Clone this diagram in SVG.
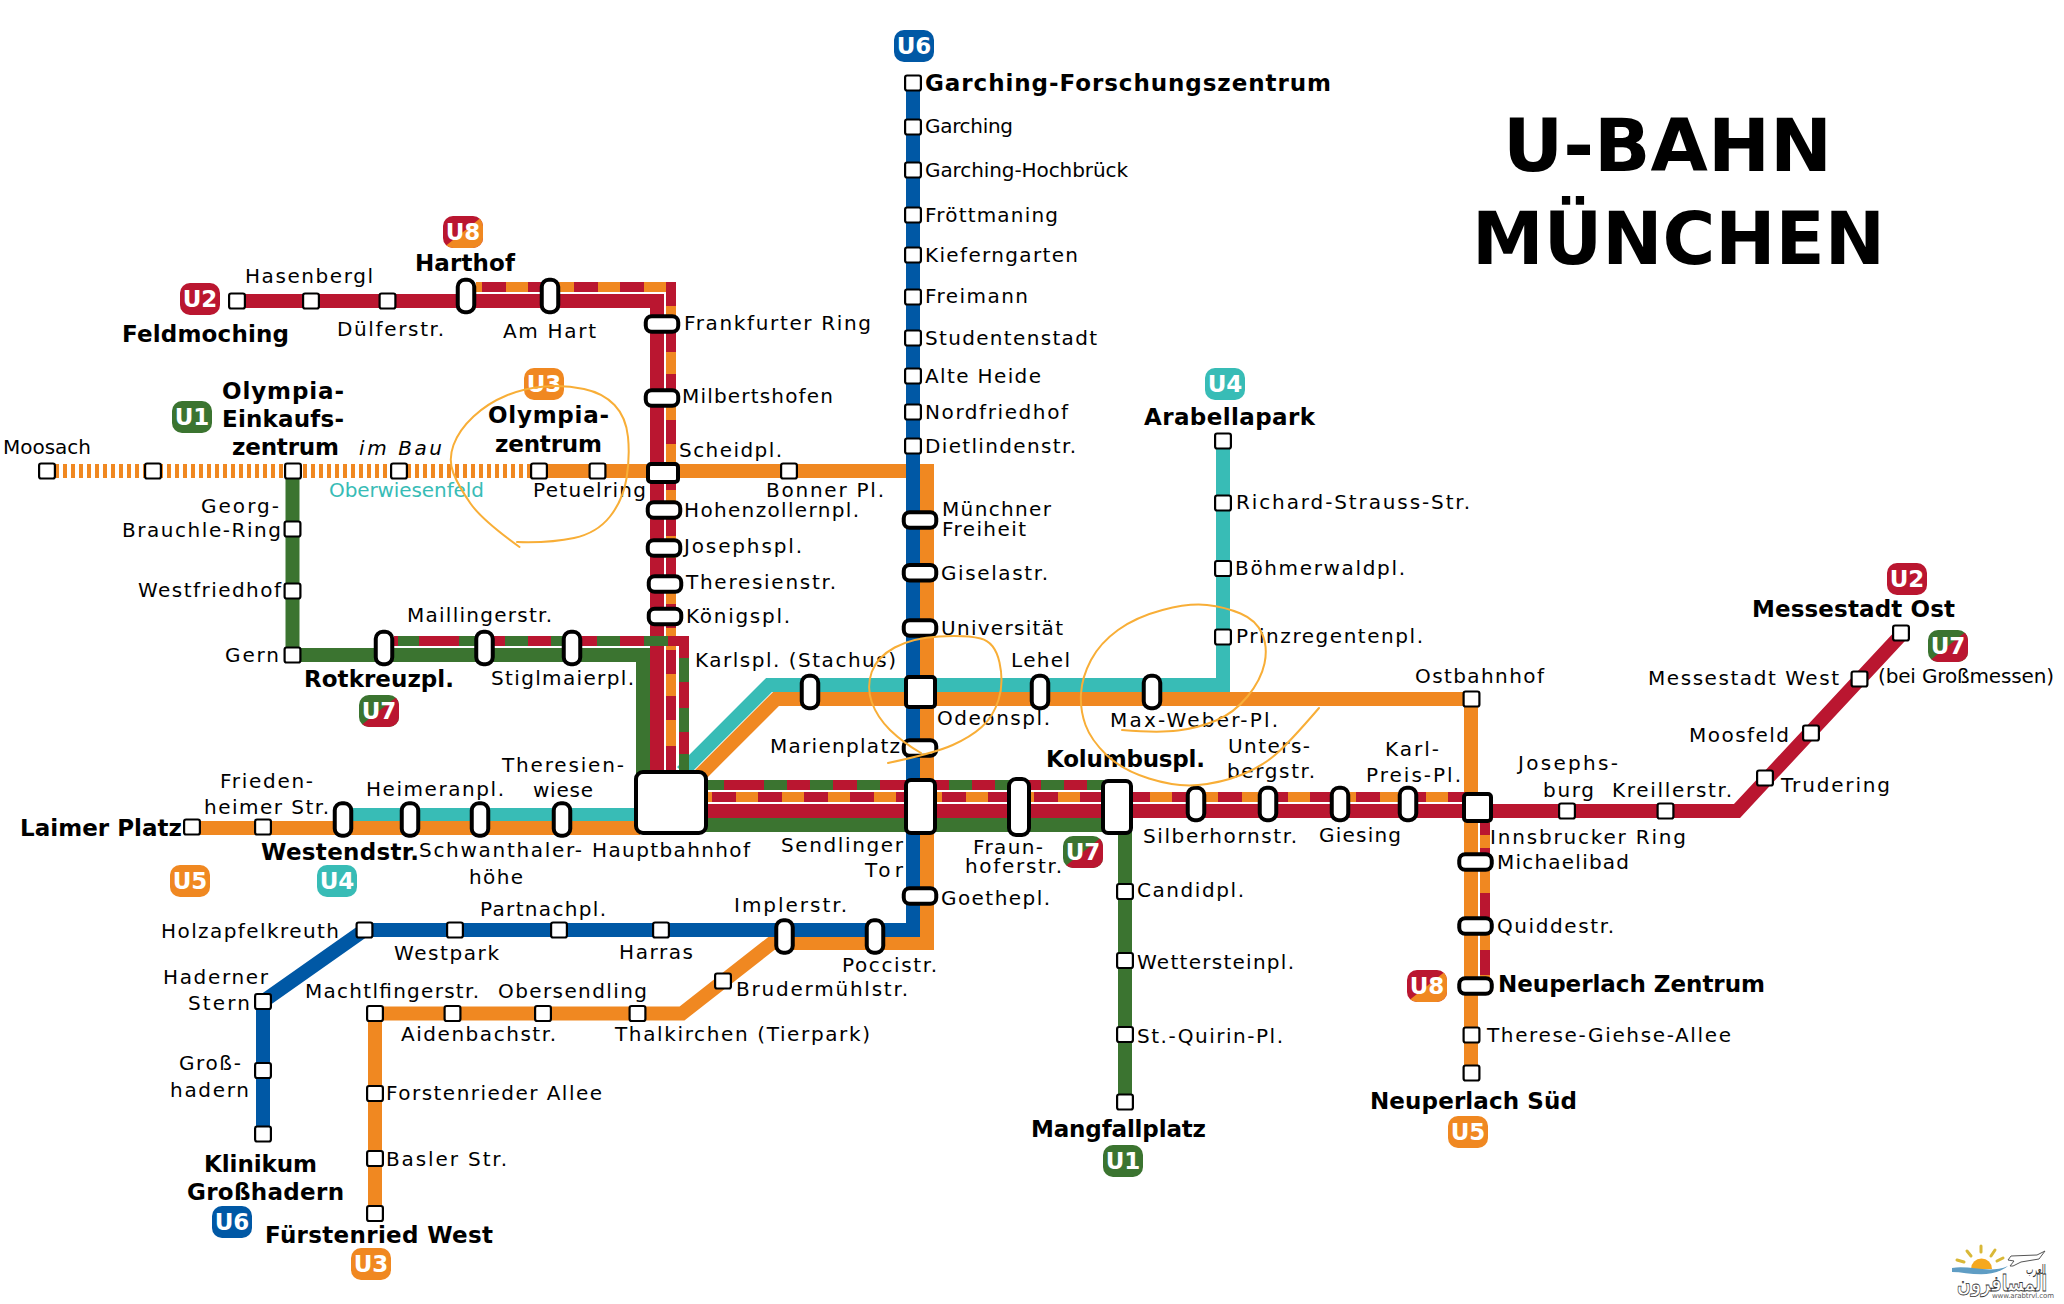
<svg xmlns="http://www.w3.org/2000/svg" width="2064" height="1304" viewBox="0 0 2064 1304">
<style>
.t{font:20px "DejaVu Sans",sans-serif;fill:#000}
.b{font:bold 23px "DejaVu Sans",sans-serif;fill:#000}
.c{font:bold 23px "DejaVu Sans",sans-serif;fill:#fff;text-anchor:middle}
.title{font:bold 73px "DejaVu Sans",sans-serif;fill:#000}
.l{fill:none;stroke-width:14;stroke-linejoin:miter}
.d{fill:none;stroke-width:10}
.s{fill:#fff;stroke:#000;stroke-width:2.2}
.p{fill:#fff;stroke:#000;stroke-width:4}
.red{stroke:#ba1630}.org{stroke:#f08821}.grn{stroke:#3b7430}.blu{stroke:#0058a5}.tea{stroke:#38bcb6}
.ink{fill:none;stroke:#f8ae37;stroke-width:2;stroke-linecap:round}
</style>
<defs>
<clipPath id="bc"><rect x="-20" y="-16" width="40" height="32" rx="10"/></clipPath>
<g id="split-u7" clip-path="url(#bc)"><rect x="-20" y="-16" width="40" height="32" fill="#3b7430"/><polygon points="-20,16 20,-16 20,16" fill="#ba1630"/></g>
<g id="split-u8" clip-path="url(#bc)"><rect x="-20" y="-16" width="40" height="32" fill="#ba1630"/><polygon points="-20,16 20,-16 20,16" fill="#f08821"/></g>
<rect id="b" x="-20" y="-16" width="40" height="32" rx="10"/>
</defs>
<rect width="2064" height="1304" fill="#fff"/>
<g id="title"><text class="title" x="1503" y="171" textLength="329" lengthAdjust="spacingAndGlyphs">U-BAHN</text><text class="title" x="1472" y="264" textLength="413" lengthAdjust="spacingAndGlyphs">MÜNCHEN</text></g>
<g id="connectors">
<path class="l tea" d="M1223 442V685H769L682 772"/>
<path class="l org" d="M1471 1073V699H776L697 778"/>
<path class="l red" d="M237 301H657V775"/>
<path class="d red" d="M476 287H671V775"/>
<path class="d org" d="M476 287H482M506 287H528M552 287H574M598 287H620M644 287H666M671 306V329M671 352V374M671 398V420M671 444V466M671 490V512M671 536V558M671 582V604M671 628V650M671 674V696M671 720V746"/>
<path class="l grn" d="M292.500 471V655H643V775"/>
<path class="d red" d="M394 641H684V775"/>
<path class="d grn" d="M398 641H419M459 641H481M505 641H528M551 641H574M597 641H620M644 641H668M684 658V682M684 708V732M684 754V772"/>
<path class="l org" stroke-dasharray="4 4" d="M47 471H539"/>
<path class="l org" d="M539 471H927V943H772L682 1013.500H375V1213.500"/>
<path class="l blu" d="M913 83V930H364.500L263 1001.500V1134"/>
<path class="l tea" d="M343 815H640"/>
<path class="l org" d="M192 828H640"/>
<path class="l red" d="M660 811H1737L1901 635"/>
<path class="l grn" d="M660 825H1125V1102"/>
<path class="d red" d="M640 785H1104"/>
<path class="d grn" d="M700 785H724M764 785H787M810 785H833M857 785H880M949 785H972M995 785H1010M1041 785H1064M1087 785H1104"/>
<path class="d red" d="M644 797H1466"/>
<path class="d org" stroke-dasharray="22 24" d="M644 797H1466"/>
<path class="d org" d="M1485 815V985"/>
<path class="d red" d="M1485 823V835M1485 848V855M1485 893V917M1485 950V975"/>
</g>
<g id="n-feldmoching"><rect class="s" x="229.100" y="293.500" width="15.800" height="15" rx="2"/><text class="b" x="122" y="342" textLength="167">Feldmoching</text></g>
<g id="n-hasenbergl"><rect class="s" x="303.100" y="293.500" width="15.800" height="15" rx="2"/><text class="t" x="245" y="283" textLength="128">Hasenbergl</text></g>
<g id="n-duelfer"><rect class="s" x="379.600" y="293.500" width="15.800" height="15" rx="2"/><text class="t" x="337" y="336" textLength="107">Dülferstr.</text></g>
<g id="n-harthof"><rect class="p" x="457.750" y="279.750" width="16.500" height="32.500" rx="7"/><text class="b" x="415" y="271" textLength="100">Harthof</text></g>
<g id="n-amhart"><rect class="p" x="541.750" y="279.750" width="16.500" height="32.500" rx="7"/><text class="t" x="503" y="338" textLength="93">Am Hart</text></g>
<g id="n-frankfurter"><rect class="p" x="645.750" y="316.250" width="32.500" height="15.500" rx="6"/><text class="t" x="684" y="330" textLength="187">Frankfurter Ring</text></g>
<g id="n-milbert"><rect class="p" x="645.750" y="390.250" width="32.500" height="15.500" rx="6"/><text class="t" x="682" y="403" textLength="151">Milbertshofen</text></g>
<g id="n-scheid"><rect class="p" x="648" y="464" width="30" height="18" rx="3"/><text class="t" x="679" y="457" textLength="103">Scheidpl.</text></g>
<g id="n-hohenz"><rect class="p" x="647.750" y="502.250" width="32.500" height="15.500" rx="6"/><text class="t" x="684" y="517" textLength="175">Hohenzollernpl.</text></g>
<g id="n-joseph"><rect class="p" x="647.750" y="540.250" width="32.500" height="15.500" rx="6"/><text class="t" x="684" y="553" textLength="118">Josephspl.</text></g>
<g id="n-theresien"><rect class="p" x="648.750" y="576.250" width="32.500" height="15.500" rx="6"/><text class="t" x="686" y="589" textLength="150">Theresienstr.</text></g>
<g id="n-koenig"><rect class="p" x="648.750" y="608.750" width="32.500" height="15.500" rx="6"/><text class="t" x="686" y="623" textLength="104">Königspl.</text></g>
<g id="n-moosach"><rect class="s" x="39.100" y="463.500" width="15.800" height="15" rx="2"/><text class="t" x="3" y="454" textLength="88">Moosach</text></g>
<g id="n-ubau2"><rect class="s" x="145.100" y="463.500" width="15.800" height="15" rx="2"/></g>
<g id="n-oez"><rect class="s" x="285.100" y="463.500" width="15.800" height="15" rx="2"/><text class="b" x="222" y="399" textLength="122">Olympia-</text><text class="b" x="222" y="427" textLength="122">Einkaufs-</text><text class="b" x="232" y="455" textLength="107">zentrum</text></g>
<g id="n-oberwiesen"><rect class="s" x="391.100" y="463.500" width="15.800" height="15" rx="2"/><text class="t" x="359" y="455" style="font-style:italic" textLength="83">im Bau</text><text class="t" x="329" y="497" style="fill:#38bcb6" textLength="155">Oberwiesenfeld</text></g>
<g id="n-olympia"><rect class="s" x="531.100" y="463.500" width="15.800" height="15" rx="2"/><text class="b" x="488" y="423" textLength="121">Olympia-</text><text class="b" x="495" y="452" textLength="107">zentrum</text></g>
<g id="n-petuel"><rect class="s" x="589.600" y="463.500" width="15.800" height="15" rx="2"/><text class="t" x="533" y="497" textLength="113">Petuelring</text></g>
<g id="n-bonner"><rect class="s" x="781.100" y="463.500" width="15.800" height="15" rx="2"/><text class="t" x="766" y="497" textLength="118">Bonner Pl.</text></g>
<g id="n-georg"><rect class="s" x="284.600" y="521.500" width="15.800" height="15" rx="2"/><text class="t" x="201" y="513" textLength="78">Georg-</text><text class="t" x="122" y="537" textLength="159">Brauchle-Ring</text></g>
<g id="n-westfriedhof"><rect class="s" x="284.600" y="583.500" width="15.800" height="15" rx="2"/><text class="t" x="138" y="597" textLength="143">Westfriedhof</text></g>
<g id="n-gern"><rect class="s" x="284.600" y="647.500" width="15.800" height="15" rx="2"/><text class="t" x="225" y="662" textLength="54">Gern</text></g>
<g id="n-rotkreuz"><rect class="p" x="375.750" y="631.750" width="16.500" height="32.500" rx="7"/><text class="b" x="304" y="687" textLength="150">Rotkreuzpl.</text></g>
<g id="n-mailling"><rect class="p" x="476.250" y="631.750" width="16.500" height="32.500" rx="7"/><text class="t" x="407" y="622" textLength="145">Maillingerstr.</text></g>
<g id="n-stiglmaier"><rect class="p" x="563.750" y="631.750" width="16.500" height="32.500" rx="7"/><text class="t" x="491" y="685" textLength="143">Stiglmaierpl.</text></g>
<g id="n-hbf"><rect class="p" x="636" y="772" width="70" height="61" rx="7"/><text class="t" x="592" y="857" textLength="158">Hauptbahnhof</text></g>
<g id="n-stachus"><rect class="p" x="801.750" y="675.750" width="16.500" height="32.500" rx="7"/><text class="t" x="695" y="667" textLength="201">Karlspl. (Stachus)</text></g>
<g id="n-marien"><rect class="p" x="903.750" y="740.250" width="32.500" height="15.500" rx="6"/><text class="t" x="770" y="753" textLength="130">Marienplatz</text></g>
<g id="n-sendlinger"><rect class="p" x="906" y="780" width="29" height="53" rx="5"/><text class="t" x="781" y="852" textLength="122">Sendlinger</text><text class="t" x="865" y="877" textLength="38">Tor</text></g>
<g id="n-fraunhofer"><rect class="p" x="1009" y="779" width="20" height="56" rx="7"/><text class="t" x="973" y="854" textLength="70">Fraun-</text><text class="t" x="965" y="873" textLength="97">hoferstr.</text></g>
<g id="n-kolumbus"><rect class="p" x="1103" y="781" width="28" height="52" rx="5"/><text class="b" x="1046" y="767" textLength="159">Kolumbuspl.</text></g>
<g id="n-silberhorn"><rect class="p" x="1187.750" y="787.750" width="16.500" height="32.500" rx="7"/><text class="t" x="1143" y="843" textLength="154">Silberhornstr.</text></g>
<g id="n-unters"><rect class="p" x="1259.750" y="787.750" width="16.500" height="32.500" rx="7"/><text class="t" x="1228" y="753" textLength="82">Unters-</text><text class="t" x="1227" y="778" textLength="88">bergstr.</text></g>
<g id="n-giesing"><rect class="p" x="1331.750" y="787.750" width="16.500" height="32.500" rx="7"/><text class="t" x="1319" y="842" textLength="82">Giesing</text></g>
<g id="n-karlpreis"><rect class="p" x="1399.750" y="787.750" width="16.500" height="32.500" rx="7"/><text class="t" x="1385" y="756" textLength="54">Karl-</text><text class="t" x="1366" y="782" textLength="95">Preis-Pl.</text></g>
<g id="n-innsbruck"><rect class="p" x="1464" y="794" width="27" height="27" rx="3"/><text class="t" x="1490" y="844" textLength="196">Innsbrucker Ring</text></g>
<g id="n-josephsburg"><rect class="s" x="1559.100" y="803.500" width="15.800" height="15" rx="2"/><text class="t" x="1518" y="770" textLength="100">Josephs-</text><text class="t" x="1543" y="797" textLength="51">burg</text></g>
<g id="n-kreiller"><rect class="s" x="1657.600" y="803.500" width="15.800" height="15" rx="2"/><text class="t" x="1612" y="797" textLength="120">Kreillerstr.</text></g>
<g id="n-trudering"><rect class="s" x="1757.100" y="770.500" width="15.800" height="15" rx="2"/><text class="t" x="1781" y="792" textLength="109">Trudering</text></g>
<g id="n-moosfeld"><rect class="s" x="1803.100" y="725.500" width="15.800" height="15" rx="2"/><text class="t" x="1689" y="742" textLength="100">Moosfeld</text></g>
<g id="n-mwest"><rect class="s" x="1851.600" y="671.500" width="15.800" height="15" rx="2"/><text class="t" x="1648" y="685" textLength="191">Messestadt West</text><text class="t" x="1878" y="683" textLength="176">(bei Großmessen)</text></g>
<g id="n-most"><rect class="s" x="1893.100" y="625.500" width="15.800" height="15" rx="2"/><text class="b" x="1752" y="617" textLength="203">Messestadt Ost</text></g>
<g id="n-ostbahnhof"><rect class="s" x="1463.600" y="691.500" width="15.800" height="15" rx="2"/><text class="t" x="1415" y="683" textLength="129">Ostbahnhof</text></g>
<g id="n-michaeli"><rect class="p" x="1459.250" y="854.250" width="32.500" height="15.500" rx="6"/><text class="t" x="1497" y="869" textLength="132">Michaelibad</text></g>
<g id="n-quidde"><rect class="p" x="1459.250" y="918.250" width="32.500" height="15.500" rx="6"/><text class="t" x="1497" y="933" textLength="117">Quiddestr.</text></g>
<g id="n-nzentrum"><rect class="p" x="1459.250" y="978.250" width="32.500" height="15.500" rx="6"/><text class="b" x="1498" y="992" textLength="267">Neuperlach Zentrum</text></g>
<g id="n-therese"><rect class="s" x="1463.600" y="1027.500" width="15.800" height="15" rx="2"/><text class="t" x="1487" y="1042" textLength="244">Therese-Giehse-Allee</text></g>
<g id="n-nsued"><rect class="s" x="1463.600" y="1065.500" width="15.800" height="15" rx="2"/><text class="b" x="1370" y="1109" textLength="207">Neuperlach Süd</text></g>
<g id="n-gf"><rect class="s" x="905.100" y="75.500" width="15.800" height="15" rx="2"/><text class="b" x="925" y="91" textLength="406">Garching-Forschungszentrum</text></g>
<g id="n-garching"><rect class="s" x="905.100" y="119.500" width="15.800" height="15" rx="2"/><text class="t" x="925" y="133" textLength="88">Garching</text></g>
<g id="n-ghb"><rect class="s" x="905.100" y="162.500" width="15.800" height="15" rx="2"/><text class="t" x="925" y="177" textLength="203">Garching-Hochbrück</text></g>
<g id="n-froett"><rect class="s" x="905.100" y="207.500" width="15.800" height="15" rx="2"/><text class="t" x="925" y="222" textLength="133">Fröttmaning</text></g>
<g id="n-kiefern"><rect class="s" x="905.100" y="247.500" width="15.800" height="15" rx="2"/><text class="t" x="925" y="262" textLength="153">Kieferngarten</text></g>
<g id="n-freimann"><rect class="s" x="905.100" y="289.500" width="15.800" height="15" rx="2"/><text class="t" x="925" y="303" textLength="103">Freimann</text></g>
<g id="n-studenten"><rect class="s" x="905.100" y="330.500" width="15.800" height="15" rx="2"/><text class="t" x="925" y="345" textLength="172">Studentenstadt</text></g>
<g id="n-alteheide"><rect class="s" x="905.100" y="368.500" width="15.800" height="15" rx="2"/><text class="t" x="925" y="383" textLength="116">Alte Heide</text></g>
<g id="n-nordfried"><rect class="s" x="905.100" y="404.500" width="15.800" height="15" rx="2"/><text class="t" x="925" y="419" textLength="143">Nordfriedhof</text></g>
<g id="n-dietlinden"><rect class="s" x="905.100" y="438.500" width="15.800" height="15" rx="2"/><text class="t" x="925" y="453" textLength="151">Dietlindenstr.</text></g>
<g id="n-mfreiheit"><rect class="p" x="903.750" y="512.250" width="32.500" height="15.500" rx="6"/><text class="t" x="942" y="516" textLength="109">Münchner</text><text class="t" x="942" y="536" textLength="84">Freiheit</text></g>
<g id="n-gisela"><rect class="p" x="903.750" y="565" width="32.500" height="15.500" rx="6"/><text class="t" x="941" y="580" textLength="107">Giselastr.</text></g>
<g id="n-uni"><rect class="p" x="903.750" y="620.250" width="32.500" height="15.500" rx="6"/><text class="t" x="941" y="635" textLength="122">Universität</text></g>
<g id="n-odeon"><rect class="p" x="906" y="677" width="29" height="30" rx="3"/><text class="t" x="937" y="725" textLength="113">Odeonspl.</text></g>
<g id="n-lehel"><rect class="p" x="1031.750" y="675.750" width="16.500" height="32.500" rx="7"/><text class="t" x="1011" y="667" textLength="59">Lehel</text></g>
<g id="n-maxweber"><rect class="p" x="1143.750" y="675.750" width="16.500" height="32.500" rx="7"/><text class="t" x="1110" y="727" textLength="168">Max-Weber-Pl.</text></g>
<g id="n-goethe"><rect class="p" x="903.750" y="888.250" width="32.500" height="15.500" rx="6"/><text class="t" x="941" y="905" textLength="109">Goethepl.</text></g>
<g id="n-candid"><rect class="s" x="1117.100" y="884" width="15.800" height="15" rx="2"/><text class="t" x="1137" y="897" textLength="107">Candidpl.</text></g>
<g id="n-wetterstein"><rect class="s" x="1117.100" y="953" width="15.800" height="15" rx="2"/><text class="t" x="1137" y="969" textLength="157">Wettersteinpl.</text></g>
<g id="n-quirin"><rect class="s" x="1117.100" y="1027" width="15.800" height="15" rx="2"/><text class="t" x="1137" y="1043" textLength="146">St.-Quirin-Pl.</text></g>
<g id="n-mangfall"><rect class="s" x="1117.100" y="1094.500" width="15.800" height="15" rx="2"/><text class="b" x="1031" y="1137" textLength="175">Mangfallplatz</text></g>
<g id="n-arabella"><rect class="s" x="1215.100" y="433.500" width="15.800" height="15" rx="2"/><text class="b" x="1144" y="425" textLength="171">Arabellapark</text></g>
<g id="n-richard"><rect class="s" x="1215.100" y="495.500" width="15.800" height="15" rx="2"/><text class="t" x="1236" y="509" textLength="234">Richard-Strauss-Str.</text></g>
<g id="n-boehmer"><rect class="s" x="1215.100" y="561" width="15.800" height="15" rx="2"/><text class="t" x="1235" y="575" textLength="170">Böhmerwaldpl.</text></g>
<g id="n-prinz"><rect class="s" x="1215.100" y="629.500" width="15.800" height="15" rx="2"/><text class="t" x="1236" y="643" textLength="187">Prinzregentenpl.</text></g>
<g id="n-laimer"><rect class="s" x="184.100" y="819.500" width="15.800" height="15" rx="2"/><text class="b" x="20" y="836" textLength="162">Laimer Platz</text></g>
<g id="n-frieden"><rect class="s" x="255.100" y="819.500" width="15.800" height="15" rx="2"/><text class="t" x="220" y="788" textLength="93">Frieden-</text><text class="t" x="204" y="814" textLength="125">heimer Str.</text></g>
<g id="n-westend"><rect class="p" x="334.750" y="803.250" width="16.500" height="32.500" rx="7"/><text class="b" x="261" y="860" textLength="158">Westendstr.</text></g>
<g id="n-heimeran"><rect class="p" x="401.750" y="803.250" width="16.500" height="32.500" rx="7"/><text class="t" x="366" y="796" textLength="138">Heimeranpl.</text></g>
<g id="n-schwan"><rect class="p" x="471.750" y="803.250" width="16.500" height="32.500" rx="7"/><text class="t" x="419" y="857" textLength="163">Schwanthaler-</text><text class="t" x="469" y="884" textLength="54">höhe</text></g>
<g id="n-wiesn"><rect class="p" x="553.750" y="803.250" width="16.500" height="32.500" rx="7"/><text class="t" x="502" y="772" textLength="122">Theresien-</text><text class="t" x="533" y="797" textLength="60">wiese</text></g>
<g id="n-holzapfel"><rect class="s" x="356.600" y="922.500" width="15.800" height="15" rx="2"/><text class="t" x="161" y="938" textLength="178">Holzapfelkreuth</text></g>
<g id="n-westpark"><rect class="s" x="447.100" y="922.500" width="15.800" height="15" rx="2"/><text class="t" x="394" y="960" textLength="105">Westpark</text></g>
<g id="n-partnach"><rect class="s" x="551.100" y="922.500" width="15.800" height="15" rx="2"/><text class="t" x="480" y="916" textLength="126">Partnachpl.</text></g>
<g id="n-harras"><rect class="s" x="653.100" y="922.500" width="15.800" height="15" rx="2"/><text class="t" x="619" y="959" textLength="74">Harras</text></g>
<g id="n-impler"><rect class="p" x="776.250" y="920.250" width="16.500" height="32.500" rx="7"/><text class="t" x="734" y="912" textLength="113">Implerstr.</text></g>
<g id="n-poccci"><rect class="p" x="866.750" y="920.250" width="16.500" height="32.500" rx="7"/><text class="t" x="842" y="972" textLength="95">Poccistr.</text></g>
<g id="n-bruder"><rect class="s" x="715.100" y="973.500" width="15.800" height="15" rx="2"/><text class="t" x="736" y="996" textLength="172">Brudermühlstr.</text></g>
<g id="n-thalkirchen"><rect class="s" x="629.600" y="1006" width="15.800" height="15" rx="2"/><text class="t" x="615" y="1041" textLength="255">Thalkirchen (Tierpark)</text></g>
<g id="n-obersend"><rect class="s" x="535.100" y="1006" width="15.800" height="15" rx="2"/><text class="t" x="498" y="998" textLength="149">Obersendling</text></g>
<g id="n-aidenbach"><rect class="s" x="444.600" y="1006" width="15.800" height="15" rx="2"/><text class="t" x="401" y="1041" textLength="155">Aidenbachstr.</text></g>
<g id="n-machtl"><rect class="s" x="367.100" y="1006" width="15.800" height="15" rx="2"/><text class="t" x="305" y="998" textLength="174">Machtlfingerstr.</text></g>
<g id="n-forsten"><rect class="s" x="367.100" y="1086" width="15.800" height="15" rx="2"/><text class="t" x="386" y="1100" textLength="216">Forstenrieder Allee</text></g>
<g id="n-basler"><rect class="s" x="367.100" y="1151" width="15.800" height="15" rx="2"/><text class="t" x="386" y="1166" textLength="121">Basler Str.</text></g>
<g id="n-fuerstenried"><rect class="s" x="367.100" y="1206" width="15.800" height="15" rx="2"/><text class="b" x="265" y="1243" textLength="228">Fürstenried West</text></g>
<g id="n-haderner"><rect class="s" x="255.100" y="994" width="15.800" height="15" rx="2"/><text class="t" x="163" y="984" textLength="105">Haderner</text><text class="t" x="188" y="1010" textLength="62">Stern</text></g>
<g id="n-grosshadern"><rect class="s" x="255.100" y="1063" width="15.800" height="15" rx="2"/><text class="t" x="179" y="1070" textLength="62">Groß-</text><text class="t" x="170" y="1097" textLength="79">hadern</text></g>
<g id="n-klinikum"><rect class="s" x="255.100" y="1126.500" width="15.800" height="15" rx="2"/><text class="b" x="204" y="1172" textLength="113">Klinikum</text><text class="b" x="187" y="1200" textLength="157">Großhadern</text></g>
<g id="badges">
<g transform="translate(914 46)"><use href="#b" fill="#0058a5"/><text class="c" y="8">U6</text></g>
<g transform="translate(463 232)"><use href="#split-u8"/><text class="c" y="8">U8</text></g>
<g transform="translate(200 299)"><use href="#b" fill="#ba1630"/><text class="c" y="8">U2</text></g>
<g transform="translate(192 417)"><use href="#b" fill="#3b7430"/><text class="c" y="8">U1</text></g>
<g transform="translate(544 384)"><use href="#b" fill="#f08821"/><text class="c" y="8">U3</text></g>
<g transform="translate(1225 384)"><use href="#b" fill="#38bcb6"/><text class="c" y="8">U4</text></g>
<g transform="translate(1907 579)"><use href="#b" fill="#ba1630"/><text class="c" y="8">U2</text></g>
<g transform="translate(1948 646)"><use href="#split-u7"/><text class="c" y="8">U7</text></g>
<g transform="translate(379 711)"><use href="#split-u7"/><text class="c" y="8">U7</text></g>
<g transform="translate(190 881)"><use href="#b" fill="#f08821"/><text class="c" y="8">U5</text></g>
<g transform="translate(337 881)"><use href="#b" fill="#38bcb6"/><text class="c" y="8">U4</text></g>
<g transform="translate(1083 852)"><use href="#split-u7"/><text class="c" y="8">U7</text></g>
<g transform="translate(1427 986)"><use href="#split-u8"/><text class="c" y="8">U8</text></g>
<g transform="translate(1123 1161)"><use href="#b" fill="#3b7430"/><text class="c" y="8">U1</text></g>
<g transform="translate(1468 1132)"><use href="#b" fill="#f08821"/><text class="c" y="8">U5</text></g>
<g transform="translate(232 1222)"><use href="#b" fill="#0058a5"/><text class="c" y="8">U6</text></g>
<g transform="translate(371 1264)"><use href="#b" fill="#f08821"/><text class="c" y="8">U3</text></g>
</g>
<g id="ink">
<path class="ink" d="M519.500 547Q482 520 470.500 503.500Q459 487 453.500 473.500Q448 460 453.500 445Q459 430 473.500 416.500Q488 403 506.500 395.500Q525 388 545 386.500Q565 385 584 389Q603 393 614.500 405Q626 417 628 437Q630 457 626.500 478.500Q623 500 610 516.500Q597 533 574 538Q551 543 517 542"/>
<path class="ink" d="M888 763Q935 753 952.700 745Q970.500 737 981.700 727Q993 717 998.500 700Q1004 683 999.500 662.500Q995 642 980.500 638.500Q966 635 939 636.500Q912.500 638 894.700 647.500Q877 657 871.700 672Q866.500 687 871.700 702Q877 717 890 730Q903.500 743 921 753"/>
<path class="ink" d="M1122 730Q1158 733 1178 730.500Q1198 728 1216 720.500Q1234 713 1247.500 696.500Q1261 680 1264.500 663.500Q1268 647 1262 633.500Q1256 620 1240.500 613.500Q1225 607 1207 605Q1189 603 1162.500 610Q1136 617 1118 630Q1100 643 1091 660Q1082 677 1081 693.500Q1080 710 1085.500 725Q1091 740 1106.500 755Q1122 770 1149 778.500Q1176 787 1198 785Q1220.500 783 1241 775Q1261 767 1275 755Q1289 743 1319 708"/>
</g>
<g id="watermark">
<path d="M1971 1269a10.500 10.500 0 0 1 21 0z" fill="#f5a81f"/>
<g stroke="#d9b838" stroke-width="3" stroke-linecap="round"><path d="M1981 1252v-6M1971 1256l-4-5M1991 1256l4-6M1964 1262l-7-2M1997 1261l6-3"/></g>
<path d="M1952 1268C1970 1265 1990 1274 2008 1266C1990 1280 1968 1272 1952 1272z" fill="#5f9dc4"/>
<path d="M2011 1256l26-1 8-4-6 8-18 3 -8 4 -3 0 4-5-6-1z" fill="#fff" stroke="#555" stroke-width="1"/>
<text x="2026" y="1274" font-family="DejaVu Sans, sans-serif" font-size="13" fill="#333" textLength="20" lengthAdjust="spacingAndGlyphs">العرب</text>
<text x="1957" y="1291" font-family="DejaVu Sans, sans-serif" font-weight="bold" font-size="22" fill="#fff" stroke="#333" stroke-width="0.800" textLength="90" lengthAdjust="spacingAndGlyphs">المسافرون</text>
<text x="1992" y="1298" font-family="DejaVu Sans, sans-serif" font-size="7" fill="#555" textLength="62">www.arabtrvl.com</text>
</g>
</svg>
